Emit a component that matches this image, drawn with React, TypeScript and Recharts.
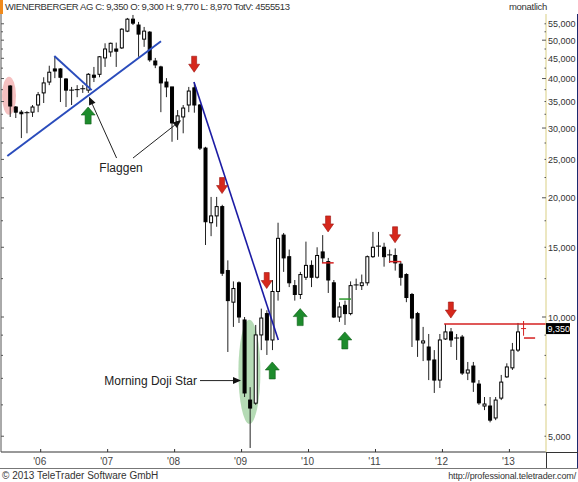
import React from 'react';
import { ComposedChart, Bar, XAxis, YAxis, ReferenceLine, ReferenceDot } from 'recharts';

const FONT = "'Liberation Sans', Arial, sans-serif";

// monthly bars, Jul 2005 .. Mar 2013
const months = [
  '2005-07', '2005-08', '2005-09', '2005-10', '2005-11', '2005-12',
  '2006-01', '2006-02', '2006-03', '2006-04', '2006-05', '2006-06', '2006-07', '2006-08', '2006-09', '2006-10', '2006-11', '2006-12',
  '2007-01', '2007-02', '2007-03', '2007-04', '2007-05', '2007-06', '2007-07', '2007-08', '2007-09', '2007-10', '2007-11', '2007-12',
  '2008-01', '2008-02', '2008-03', '2008-04', '2008-05', '2008-06', '2008-07', '2008-08', '2008-09', '2008-10', '2008-11', '2008-12',
  '2009-01', '2009-02', '2009-03', '2009-04', '2009-05', '2009-06', '2009-07', '2009-08', '2009-09', '2009-10', '2009-11', '2009-12',
  '2010-01', '2010-02', '2010-03', '2010-04', '2010-05', '2010-06', '2010-07', '2010-08', '2010-09', '2010-10', '2010-11', '2010-12',
  '2011-01', '2011-02', '2011-03', '2011-04', '2011-05', '2011-06', '2011-07', '2011-08', '2011-09', '2011-10', '2011-11', '2011-12',
  '2012-01', '2012-02', '2012-03', '2012-04', '2012-05', '2012-06', '2012-07', '2012-08', '2012-09', '2012-10', '2012-11', '2012-12',
  '2013-01', '2013-02', '2013-03',
];

const open = [
  38.3, 33.9, 32.9, 32.6, 32.9, 34.3,
  36.8, 39.2, 42.3, 42.3, 39.9, 37.4, 37.3, 37.5, 37.4, 40.8, 41.0, 45.1,
  46.7, 47.5, 47.8, 52.7, 56.5, 54.6, 50.3, 52.4, 44.3, 42.8, 39.2, 38.1,
  31.1, 32.0, 34.3, 37.9, 34.3, 26.7, 17.3, 18.0, 19.0, 13.1, 10.9, 12.2,
  9.83, 6.17, 6.06, 9.01, 10.2, 8.75, 11.6, 16.1, 14.2, 12.0, 11.4, 12.6,
  13.5, 12.6, 14.6, 13.8, 12.2, 10.0, 10.7, 10.2, 12.0, 12.0, 12.2, 14.2,
  15.0, 15.0, 14.35, 14.3, 13.6, 12.8, 11.4, 10.2, 8.6, 8.4, 7.79, 6.93,
  8.8, 9.17, 8.85, 8.9, 7.22, 7.52, 6.77, 5.96, 5.96, 5.56, 6.24, 7.06,
  7.44, 8.25, 9.3,
];

const high = [
  38.5, 34.1, 33.3, 33.1, 34.3, 37.0,
  40.3, 43.1, 45.4, 42.5, 40.1, 38.1, 38.5, 38.5, 41.3, 42.8, 45.6, 49.1,
  49.3, 49.3, 53.6, 56.9, 57.9, 55.6, 54.0, 52.7, 45.1, 43.1, 40.1, 38.1,
  33.3, 34.3, 38.1, 39.2, 34.5, 26.9, 20.1, 20.1, 19.2, 13.9, 12.3, 12.3,
  10.0, 6.65, 9.55, 10.5, 10.4, 12.4, 17.3, 16.3, 14.8, 12.4, 13.0, 15.5,
  13.9, 15.0, 16.1, 14.1, 12.4, 10.9, 11.0, 12.3, 12.5, 12.8, 14.3, 16.4,
  16.4, 15.4, 14.8, 14.9, 13.8, 12.9, 11.5, 10.3, 9.44, 9.06, 8.25, 9.06,
  9.6, 9.38, 9.06, 9.01, 7.7, 7.7, 6.93, 6.28, 6.28, 6.28, 7.14, 7.64,
  8.6, 9.66, 9.77,
];

const low = [
  32.0, 31.8, 28.3, 29.1, 32.0, 32.9,
  34.7, 38.5, 40.1, 34.9, 33.9, 34.3, 35.9, 36.8, 36.8, 39.2, 40.3, 42.8,
  45.4, 42.8, 47.5, 52.4, 54.6, 45.4, 48.1, 44.1, 42.5, 32.9, 35.9, 27.7,
  28.0, 29.1, 32.9, 32.8, 26.4, 15.2, 16.0, 16.9, 12.7, 8.16, 9.44, 9.66,
  6.28, 4.67, 6.0, 8.25, 8.02, 8.25, 11.0, 13.0, 11.9, 11.0, 11.1, 12.4,
  11.9, 12.5, 13.7, 11.5, 9.94, 9.72, 9.55, 10.1, 11.7, 11.7, 12.0, 14.1,
  14.2, 13.4, 13.7, 13.1, 12.0, 10.9, 8.4, 7.93, 7.74, 6.93, 6.43, 6.62,
  8.75, 8.4, 7.79, 7.14, 6.93, 6.47, 6.0, 5.82, 5.42, 5.49, 6.17, 7.02,
  7.35, 8.16, 8.97,
];

const close = [
  34.1, 32.9, 32.6, 32.8, 33.9, 36.4,
  39.0, 41.5, 41.8, 40.3, 37.4, 37.2, 37.5, 37.7, 41.0, 40.3, 45.4, 47.5,
  49.1, 46.9, 53.3, 56.5, 55.2, 51.8, 52.7, 44.6, 43.3, 39.0, 38.1, 30.9,
  32.2, 33.7, 37.2, 34.3, 26.7, 17.4, 18.0, 19.0, 12.9, 11.0, 11.8, 10.0,
  6.43, 5.89, 9.01, 9.94, 8.75, 11.6, 15.8, 14.1, 12.2, 11.4, 12.8, 13.5,
  12.6, 14.3, 14.1, 12.4, 10.0, 10.6, 10.2, 12.0, 12.05, 12.2, 14.2, 15.0,
  15.1, 14.2, 14.3, 13.7, 12.6, 11.2, 9.94, 8.75, 8.7, 7.79, 6.93, 8.75,
  9.17, 8.75, 8.8, 7.22, 7.35, 6.85, 6.07, 6.03, 5.49, 6.17, 6.85, 7.48,
  8.25, 9.17, 9.35,
];

const totalVolume = 4555513;

const labelTicks = [5, 10, 15, 20, 25, 30, 35, 40, 45, 50, 55];
const minorTicks = [6, 7, 8, 9, 12.5, 17.5, 22.5, 27.5, 32.5, 37.5, 42.5, 47.5, 52.5];

// drawn studies, positions in (bar index, price)
const flagLines = [
  { x1: -0.48, y1: 25.5, x2: 27.06, y2: 49.7 },
  { x1: 7.94, y1: 45.6, x2: 14.64, y2: 37.4 },
];
const downTrend = { x1: 32.97, y1: 39.2, x2: 48.08, y2: 8.75 };
const sellSignals = [
  { i: 33, p: 41.5 }, { i: 38, p: 20.5 }, { i: 46, p: 11.8 },
  { i: 57, p: 16.4 }, { i: 69, p: 15.4 }, { i: 79, p: 9.94 },
];
const buySignals = [
  { i: 14, p: 33.9 }, { i: 47, p: 7.7 }, { i: 52, p: 10.5 }, { i: 60, p: 9.17 },
];
const redMarks = [
  { x1: 55.9, x2: 58.0, p: 13.7 },
  { x1: 67.9, x2: 70.1, p: 13.8 },
  { x1: 92.1, x2: 94.1, p: 8.85 },
];
const greenMarks = [{ x1: 59.0, x2: 61.1, p: 11.1 }];
const pointers = [
  { x1: 19.1, y1: 25.2, x2: 14.16, y2: 35.96 },
  { x1: 22.04, y1: 25.2, x2: 30.65, y2: 31.4 },
  { x1: 34.05, y1: 6.91, x2: 41.4, y2: 6.91 },
];

// band width, category padding, and the same placement for the index axis
const BAND = 5.58;
const CAT_PAD = { left: 6.21, right: 19.85 };
const IDX_PAD = { left: 9, right: 22.6 };
const X_RIGHT = 96.05; // index value at the price-axis edge
const Y_DOMAIN: [number, number] = [4.562, 58.22];

const fmt = (v: number) => v.toFixed(3).replace('.', ',');

const Candle = (props: any) => {
  const { x, y, width, height, payload } = props;
  if (x == null || !payload) return <g />;
  const top = Math.min(y, y + height);
  const bottom = Math.max(y, y + height);
  const lh = Math.log(payload.high);
  const ll = Math.log(payload.low);
  const toY = (v: number) => top + ((bottom - top) * (lh - Math.log(v))) / (lh - ll || 1);
  const cx = x + width / 2;
  const yo = toY(payload.open);
  const yc = toY(payload.close);
  const up = payload.close >= payload.open;
  const color = payload.live ? '#d42020' : '#000';
  const bt = Math.min(yo, yc);
  const bh = Math.abs(yo - yc);
  return (
    <g>
      <line x1={cx} x2={cx} y1={top} y2={bottom} stroke={payload.live ? color : '#222'} strokeWidth={1} />
      {bh < 1.2 ? (
        <line x1={x - 0.5} x2={x + width + 0.5} y1={bt} y2={bt} stroke={color} strokeWidth={1} />
      ) : (
        <rect x={x + 0.5} y={bt} width={width - 1} height={bh} fill={up ? '#fff' : color} stroke={color} strokeWidth={1} />
      )}
    </g>
  );
};

const PriceTick = ({ x, y, payload }: any) => {
  const v = payload.value;
  const labelled = labelTicks.includes(v);
  const dash = v % 10 === 0 ? 4 : 1.5;
  return (
    <g>
      <line x1={x - dash} x2={x} y1={y} y2={y} stroke="#555" strokeWidth={1} />
      {labelled && (
        <text x={x + 2} y={y + 3.5} fontSize={9} fill="#333" fontFamily={FONT}>
          {fmt(v)}
        </text>
      )}
    </g>
  );
};

const EdgeTick = ({ x, y, payload }: any) => (
  <line x1={x} x2={x + (labelTicks.includes(payload.value) ? 3 : 2)} y1={y} y2={y} stroke="#555" strokeWidth={1} />
);

const YearTick = ({ x, y, payload }: any) => {
  const m: string = payload.value;
  if (!m.endsWith('-01')) return <g />;
  const bx = x - BAND / 2;
  return (
    <g>
      <line x1={bx} x2={bx} y1={y - 3} y2={y} stroke="#333" strokeWidth={1} />
      <text x={bx - 1} y={y + 13} textAnchor="middle" fontSize={10} fill="#444" fontFamily={FONT}>
        {`'${m.slice(2, 4)}`}
      </text>
    </g>
  );
};

const SellArrow = ({ cx, cy }: any) => (
  <polygon
    points={`${cx - 2.5},${cy - 16} ${cx + 2.5},${cy - 16} ${cx + 2.5},${cy - 8} ${cx + 5.5},${cy - 8} ${cx},${cy} ${cx - 5.5},${cy - 8} ${cx - 2.5},${cy - 8}`}
    fill="#d6281c"
    stroke="#9c1410"
    strokeWidth={0.6}
  />
);

const BuyArrow = ({ cx, cy }: any) => (
  <polygon
    points={`${cx},${cy} ${cx + 7},${cy + 8} ${cx + 3},${cy + 8} ${cx + 3},${cy + 17} ${cx - 3},${cy + 17} ${cx - 3},${cy + 8} ${cx - 7},${cy + 8}`}
    fill="#1d8b2c"
    stroke="#0f5e18"
    strokeWidth={0.6}
  />
);

const Pointer = (props: any) => {
  const { x1, y1, x2, y2 } = props;
  const a = Math.atan2(y2 - y1, x2 - x1);
  const bx = x2 - 8 * Math.cos(a);
  const by = y2 - 8 * Math.sin(a);
  const px = -Math.sin(a) * 3.5;
  const py = Math.cos(a) * 3.5;
  return (
    <g>
      <line x1={x1} y1={y1} x2={bx} y2={by} stroke="#222" strokeWidth={1} />
      <polygon points={`${x2},${y2} ${bx + px},${by + py} ${bx - px},${by - py}`} fill="#111" />
    </g>
  );
};

const Ellipse = (fill: string, rx: number, ry: number) => ({ cx, cy }: any) => (
  <ellipse cx={cx} cy={cy} rx={rx} ry={ry} fill={fill} />
);

const Caption = (text: string, anchor: 'middle' | 'end') => ({ cx, cy }: any) => (
  <text x={cx} y={cy + 4} textAnchor={anchor} fontSize={12} fill="#222" fontFamily={FONT}>
    {text}
  </text>
);

const LastPrice = ({ cx, cy }: any) => (
  <g>
    <rect x={cx} y={cy - 5.5} width={24} height={11} fill="#000" />
    <text x={cx + 1.5} y={cy + 3.5} fontSize={9} fill="#fff" fontFamily={FONT}>
      {fmt(close[close.length - 1])}
    </text>
  </g>
);

export default function App() {
  const data = months.map((m, i) => ({
    m,
    idx: i,
    open: open[i],
    high: high[i],
    low: low[i],
    close: close[i],
    range: [low[i], high[i]],
    live: i === months.length - 1,
  }));
  const n = months.length - 1;
  const header = `WIENERBERGER AG C: ${fmt(close[n])} O: ${fmt(open[n])} H: ${fmt(high[n])} L: ${fmt(low[n])} TotV: ${totalVolume}`;
  const allTicks = [...labelTicks, ...minorTicks].sort((a, b) => a - b);

  return (
    <div style={{ position: 'relative', width: 578, height: 482, background: '#fff', fontFamily: FONT, overflow: 'hidden' }}>
      <style>{'body{margin:0}'}</style>
      <ComposedChart width={578} height={482} data={data} margin={{ top: 14, right: 0, bottom: 14, left: 0 }}>
        <XAxis
          xAxisId="c"
          dataKey="m"
          padding={CAT_PAD}
          interval={0}
          height={16}
          tickSize={0}
          tickMargin={0}
          tickLine={false}
          axisLine={{ stroke: '#333' }}
          tick={YearTick}
        />
        <XAxis xAxisId="n" dataKey="idx" type="number" domain={[0, n]} padding={IDX_PAD} allowDataOverflow hide />
        <YAxis
          yAxisId="p"
          orientation="right"
          scale="log"
          domain={Y_DOMAIN}
          allowDataOverflow
          ticks={allTicks}
          interval={0}
          width={32}
          tickSize={0}
          tickMargin={0}
          tickLine={false}
          axisLine={{ stroke: '#d9cf84' }}
          tick={PriceTick}
        />
        <YAxis
          yAxisId="l"
          orientation="left"
          scale="log"
          domain={Y_DOMAIN}
          allowDataOverflow
          ticks={allTicks}
          interval={0}
          width={1}
          tickSize={0}
          tickMargin={0}
          tickLine={false}
          axisLine={{ stroke: '#555' }}
          tick={EdgeTick}
        />

        <ReferenceDot xAxisId="n" yAxisId="p" x={-0.18} y={36.2} ifOverflow="visible" zIndex={100} shape={Ellipse('rgba(238,150,150,0.6)', 7, 19)} />
        <ReferenceDot xAxisId="n" yAxisId="p" x={42.9} y={7.27} ifOverflow="visible" zIndex={100} shape={Ellipse('rgba(120,190,120,0.55)', 11, 52)} />

        <Bar xAxisId="c" yAxisId="p" dataKey="range" barSize={4} shape={Candle} isAnimationActive={false} />

        {flagLines.map((s, k) => (
          <ReferenceLine key={`f${k}`} xAxisId="n" yAxisId="p" ifOverflow="visible" stroke="#2a4cbc" strokeWidth={2}
            segment={[{ x: s.x1, y: s.y1 }, { x: s.x2, y: s.y2 }]} />
        ))}
        <ReferenceLine xAxisId="n" yAxisId="p" ifOverflow="visible" stroke="#1c1ca4" strokeWidth={1.6}
          segment={[{ x: downTrend.x1, y: downTrend.y1 }, { x: downTrend.x2, y: downTrend.y2 }]} />
        <ReferenceLine xAxisId="n" yAxisId="p" ifOverflow="visible" stroke="#d42020" strokeWidth={1.5}
          segment={[{ x: 77.8, y: high[78] }, { x: X_RIGHT, y: high[78] }]} />
        {redMarks.map((s, k) => (
          <ReferenceLine key={`r${k}`} xAxisId="n" yAxisId="p" ifOverflow="visible" stroke="#d42020" strokeWidth={1.5}
            segment={[{ x: s.x1, y: s.p }, { x: s.x2, y: s.p }]} />
        ))}
        {greenMarks.map((s, k) => (
          <ReferenceLine key={`g${k}`} xAxisId="n" yAxisId="p" ifOverflow="visible" stroke="#2a9a2a" strokeWidth={1.5}
            segment={[{ x: s.x1, y: s.p }, { x: s.x2, y: s.p }]} />
        ))}
        {pointers.map((s, k) => (
          <ReferenceLine key={`p${k}`} xAxisId="n" yAxisId="p" ifOverflow="visible" shape={Pointer}
            segment={[{ x: s.x1, y: s.y1 }, { x: s.x2, y: s.y2 }]} />
        ))}

        {sellSignals.map((s, k) => (
          <ReferenceDot key={`s${k}`} xAxisId="n" yAxisId="p" x={s.i} y={s.p} ifOverflow="visible" shape={SellArrow} />
        ))}
        {buySignals.map((s, k) => (
          <ReferenceDot key={`b${k}`} xAxisId="n" yAxisId="p" x={s.i} y={s.p} ifOverflow="visible" shape={BuyArrow} />
        ))}
        <ReferenceDot xAxisId="n" yAxisId="p" x={19.9} y={23.8} ifOverflow="visible" shape={Caption('Flaggen', 'middle')} />
        <ReferenceDot xAxisId="n" yAxisId="p" x={33.5} y={6.91} ifOverflow="visible" shape={Caption('Morning Doji Star', 'end')} />
        <ReferenceDot xAxisId="n" yAxisId="p" x={X_RIGHT} y={close[n]} ifOverflow="visible" shape={LastPrice} />
      </ComposedChart>

      <div style={{ position: 'absolute', left: 0, top: 0, width: 3, height: 14, background: '#f08a1c' }} />
      <div style={{ position: 'absolute', left: 5, top: 1, fontSize: 9.5, letterSpacing: -0.4, color: '#333', lineHeight: '12px', whiteSpace: 'nowrap' }}>
        {header}
      </div>
      <div style={{ position: 'absolute', left: 509, top: 1, fontSize: 9.5, letterSpacing: -0.3, color: '#333', lineHeight: '12px' }}>
        monatlich
      </div>
      <div style={{ position: 'absolute', left: 577, top: 14, width: 1, height: 454, background: '#1c2a6e' }} />
      <div style={{ position: 'absolute', left: 546, top: 452, width: 32, height: 1, background: '#333' }} />
      <div style={{ position: 'absolute', left: 546, top: 452, width: 1, height: 16, background: '#333' }} />
      <div style={{ position: 'absolute', left: 0, top: 468, width: 578, height: 1, background: '#777' }} />
      <div style={{ position: 'absolute', left: 2, top: 469, fontSize: 10, color: '#333', lineHeight: '13px', whiteSpace: 'nowrap' }}>
        © 2013 TeleTrader Software GmbH
      </div>
      <div style={{ position: 'absolute', right: 2, top: 470, fontSize: 9, letterSpacing: -0.15, color: '#333', lineHeight: '12px', whiteSpace: 'nowrap' }}>
        http://professional.teletrader.com/
      </div>
    </div>
  );
}
